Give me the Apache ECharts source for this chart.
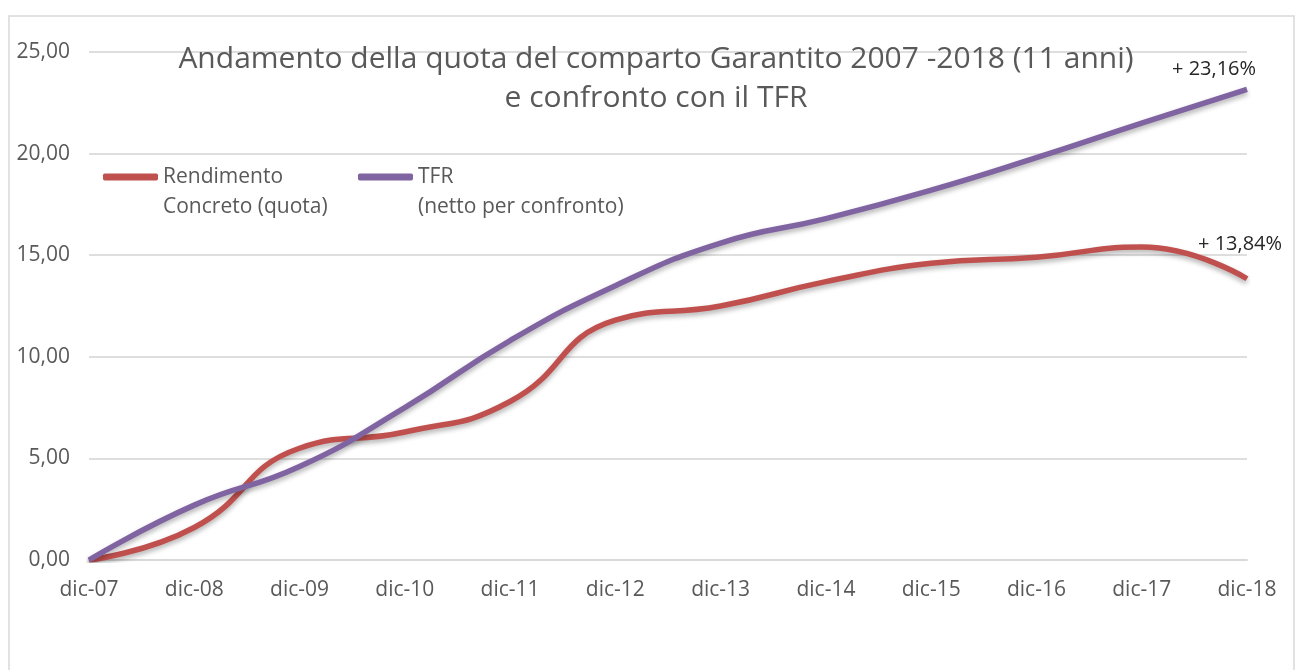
<!DOCTYPE html>
<html>
<head>
<meta charset="utf-8">
<script src="https://cdn.jsdelivr.net/npm/echarts@6/dist/echarts.min.js"></script>
<style>
  html, body { margin: 0; padding: 0; background: #fff; }
  #chart { width: 1312px; height: 670px; }
</style>
</head>
<body>
<div id="chart"></div>
<script>
// dati
const categories = ['dic-07', 'dic-08', 'dic-09', 'dic-10', 'dic-11', 'dic-12',
    'dic-13', 'dic-14', 'dic-15', 'dic-16', 'dic-17', 'dic-18']
const rendimento = [0, 1.6, 5.5, 6.3, 7.8, 11.8, 12.5, 13.7, 14.6, 14.9, 15.4, 13.84]
const tfr = [0, 2.7, 4.6, 7.5, 10.8, 13.5, 15.6, 16.8, 18.2, 19.8, 21.5, 23.16]
const yTicks = [0, 5, 10, 15, 20, 25]

const nameRend = 'Rendimento\nConcreto (quota)'
const nameTfr = 'TFR\n(netto per confronto)'

const FONT = 'Open Sans'
const GREY = '#595959'

const fmt = v => v.toFixed(2).replace('.', ',')

function endLabel(offset) {
    return {
        show: true,
        offset: offset,
        formatter: p => '+ ' + fmt(p.value) + '%',
        color: '#262626',
        fontFamily: FONT,
        fontSize: 20
    }
}

// il testo ha una riga vuota sopra, cosi' l'icona resta sulla prima riga del nome
const legendBase = {
    orient: 'horizontal',
    top: 127,
    itemWidth: 55,
    itemHeight: 7,
    icon: 'roundRect',
    itemGap: 5,
    formatter: name => ' \n' + name,
    textStyle: {
        color: GREY,
        fontFamily: FONT,
        fontSize: 21,
        lineHeight: 30
    },
    selectedMode: false
}

const chart = echarts.init(document.getElementById('chart'))

chart.setOption({
    animation: false,
    backgroundColor: '#fff',
    title: {
        text: 'Andamento della quota del comparto Garantito 2007 -2018 (11 anni)\ne confronto con il TFR',
        left: 651,
        textAlign: 'center',
        top: 35,
        textStyle: {
            color: GREY,
            fontFamily: FONT,
            fontWeight: 'normal',
            fontSize: 30,
            lineHeight: 39
        }
    },
    graphic: [{
        type: 'rect',
        shape: { x: 9, y: 16, width: 1285, height: 680 },
        style: { fill: 'none', stroke: '#d9d9d9', lineWidth: 1.5 },
        silent: true,
        z: -10
    }],
    legend: [
        Object.assign({}, legendBase, { left: 98, data: [nameRend] }),
        Object.assign({}, legendBase, { left: 353, data: [nameTfr] })
    ],
    grid: {
        left: 89,
        right: 65,
        top: 52,
        bottom: 110
    },
    xAxis: {
        type: 'category',
        data: categories,
        boundaryGap: false,
        axisLine: { lineStyle: { color: '#d9d9d9', width: 2 } },
        axisTick: { show: false },
        axisLabel: {
            color: GREY,
            fontFamily: FONT,
            fontSize: 21,
            margin: 20
        }
    },
    yAxis: {
        type: 'value',
        min: yTicks[0],
        max: yTicks[yTicks.length - 1],
        interval: 5,
        axisLine: { show: false },
        axisTick: { show: false },
        splitLine: { lineStyle: { color: '#dedede', width: 2 } },
        axisLabel: {
            color: GREY,
            fontFamily: FONT,
            fontSize: 21,
            margin: 19,
            formatter: v => fmt(v)
        }
    },
    series: [
        {
            name: nameRend,
            type: 'line',
            data: rendimento,
            smooth: 0.5,
            showSymbol: false,
            symbol: 'none',
            color: '#c0504d',
            endLabel: endLabel([-57, -34]),
            lineStyle: {
                width: 5.5,
                color: '#c0504d',
                shadowColor: 'rgba(0,0,0,0.3)',
                shadowBlur: 5,
                shadowOffsetY: 3
            },
            z: 3
        },
        {
            name: nameTfr,
            type: 'line',
            data: tfr,
            smooth: 0.5,
            showSymbol: false,
            symbol: 'none',
            color: '#8064a2',
            endLabel: endLabel([-83, -20]),
            lineStyle: {
                width: 5.5,
                color: '#8064a2',
                shadowColor: 'rgba(0,0,0,0.3)',
                shadowBlur: 5,
                shadowOffsetY: 3
            },
            z: 4
        }
    ]
})
</script>
</body>
</html>
